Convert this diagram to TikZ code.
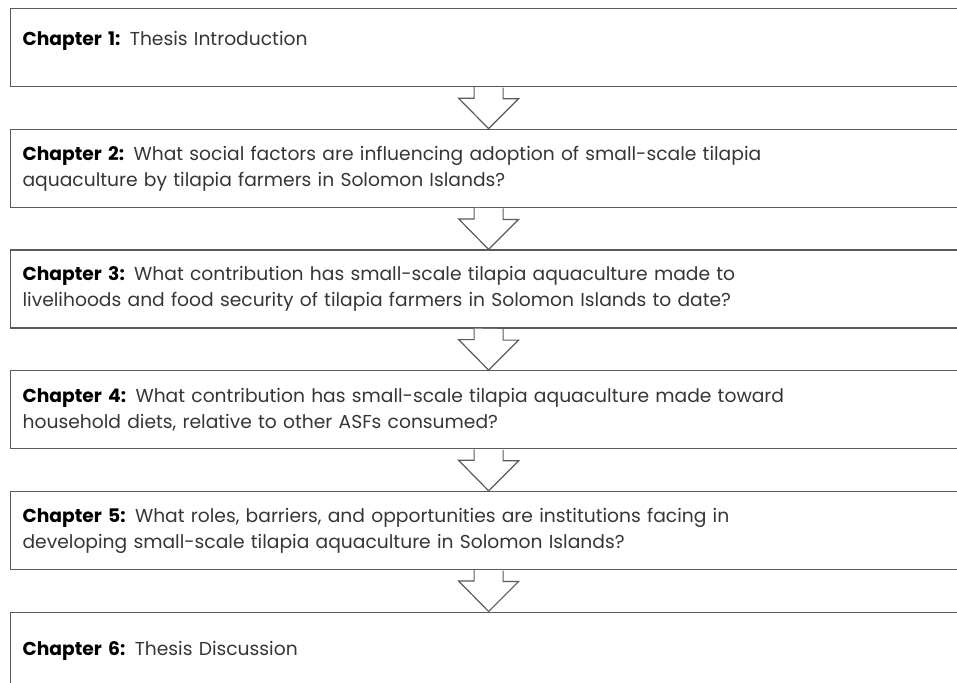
\documentclass[tikz,border=0pt]{standalone}
\usepackage{fontspec}
\setmainfont{Poppins}
\usetikzlibrary{positioning}
\definecolor{BoxLine}{HTML}{5A5A5A}
\definecolor{BodyText}{HTML}{363636}
\newcommand{\chaplabel}[1]{\textcolor{black}{\textbf{Chapter #1:}}}

\begin{document}
\begin{tikzpicture}[x=1pt, y=1pt, node distance=41.5pt, font=\fontsize{18.7}{26}\selectfont]
    \tikzstyle{chapter} = [rectangle, draw=BoxLine, line width=1.2pt, fill=white, text=BodyText, text width=932pt, inner xsep=12pt, inner ysep=0pt, minimum height=78pt, align=left]
    \tikzstyle{flow} = [draw=BoxLine, line width=1.2pt, fill=white, line join=miter]

    \useasboundingbox (0,0) rectangle (957,-682);
    \clip (0,0) rectangle (957,-682);

    \node [chapter, anchor=north west, text depth=19pt] (c1) at (10,-8) {\chaplabel{1} Thesis Introduction};
    \node [chapter, below=of c1] (c2) {\chaplabel{2} What social factors are influencing adoption of small-scale tilapia\\aquaculture by tilapia farmers in Solomon Islands?};
    \node [chapter, below=of c2] (c3) {\chaplabel{3} What contribution has small-scale tilapia aquaculture made to\\livelihoods and food security of tilapia farmers in Solomon Islands to date?};
    \node [chapter, below=of c3] (c4) {\chaplabel{4} What contribution has small-scale tilapia aquaculture made toward\\household diets, relative to other ASFs consumed?};
    \node [chapter, below=of c4] (c5) {\chaplabel{5} What roles, barriers, and opportunities are institutions facing in\\developing small-scale tilapia aquaculture in Solomon Islands?};
    \node [chapter, below=of c5] (c6) {\chaplabel{6} Thesis Discussion};

    % hollow block arrows, open at the top so they cut into the box above
    \foreach \a/\b in {c1/c2, c2/c3, c3/c4, c4/c5, c5/c6}
        \path [flow] (\a.south) ++(-14.5,0) -- ++(0,-11) -- ++(-15.5,0) -- (\b.north) -- ++(30,30) -- ++(-15.5,0) -- ++(0,11);
\end{tikzpicture}
\end{document}
